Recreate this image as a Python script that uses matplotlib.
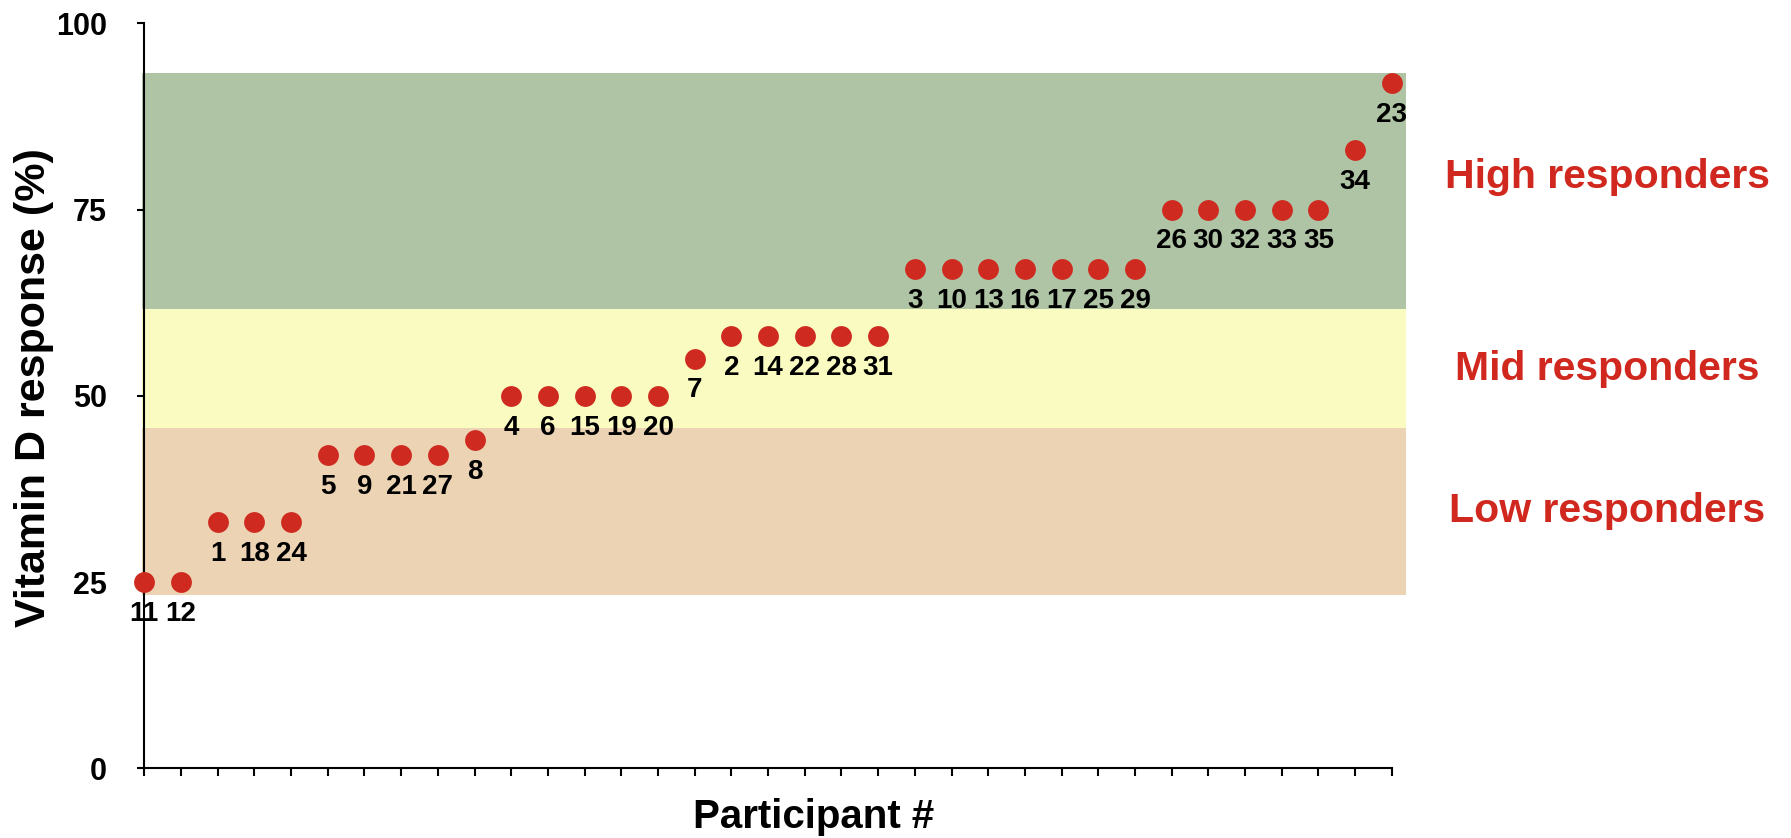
import matplotlib
matplotlib.use("Agg")
import matplotlib.pyplot as plt
from matplotlib.patches import Rectangle

plt.rcParams['font.family'] = ['Liberation Sans', 'DejaVu Sans']
plt.rcParams['font.weight'] = 'bold'

# Data (sorted by response)
participants = ['11', '12', '1', '18', '24', '5', '9', '21', '27', '8',
                '4', '6', '15', '19', '20', '7', '2', '14', '22', '28', '31',
                '3', '10', '13', '16', '17', '25', '29',
                '26', '30', '32', '33', '35', '34', '23']
response = [25, 25, 33, 33, 33, 42, 42, 42, 42, 44,
            50, 50, 50, 50, 50, 55, 58, 58, 58, 58, 58,
            67, 67, 67, 67, 67, 67, 67,
            75, 75, 75, 75, 75, 83, 92]

band_names = ['Low responders', 'Mid responders', 'High responders']
band_low = [23.3, 45.7, 61.7]
band_high = [45.7, 61.7, 93.3]
band_colors = ['#ECD3B4', '#FAFBC0', '#AFC4A5']
band_label_y = [33.1, 52.1, 77.85]

yticks = [0, 25, 50, 75, 100]

DOT = '#CF2A1F'
TXT_RED = '#D0281E'

fig = plt.figure(figsize=(17.91, 8.38), dpi=100)
ax = fig.add_axes([0.0806, 0.0832, 0.7771 - 0.0806, 0.9722 - 0.0832])

n = len(participants)
xs = list(range(n))
ax.set_xlim(0, n - 1)
ax.set_ylim(0, 100)

for lo, hi, c in zip(band_low, band_high, band_colors):
    ax.add_patch(Rectangle((-0.07, lo), (n - 1) + 0.46, hi - lo, facecolor=c,
                           edgecolor='none', zorder=0, clip_on=False))

ax.plot(xs, response, 'o', color=DOT, markersize=15, markeredgewidth=0,
        zorder=4, clip_on=False)

for x, y, lab in zip(xs, response, participants):
    ax.annotate(lab, (x, y), xytext=(0, -28), textcoords='offset points',
                ha='center', va='baseline', fontsize=20, fontweight='bold',
                color='black', zorder=5, annotation_clip=False)

for name, yv in zip(band_names, band_label_y):
    ax.text(39.87, yv, name, ha='center', va='baseline', fontsize=29.5,
            fontweight='bold', color=TXT_RED, clip_on=False)

for s in ['top', 'right']:
    ax.spines[s].set_visible(False)
for s in ['left', 'bottom']:
    ax.spines[s].set_linewidth(1.5)
    ax.spines[s].set_zorder(3)

ax.set_yticks(yticks)
ax.set_yticklabels([str(t) for t in yticks])
ax.set_xticks(xs)
ax.set_xticklabels([])
ax.tick_params(axis='y', direction='out', length=5, width=1.5, pad=22,
               labelsize=22)
ax.tick_params(axis='x', direction='out', length=5.5, width=1.5)
for lab in ax.get_yticklabels():
    lab.set_fontweight('bold')

fig.text(0.454, 0.0116, 'Participant #', ha='center', va='baseline',
         fontsize=29, fontweight='bold')
fig.text(0.019, 0.538, 'Vitamin D response (%)', ha='center', va='center',
         rotation=90, fontsize=31, fontweight='bold')

fig.savefig('out.png', dpi=100)
